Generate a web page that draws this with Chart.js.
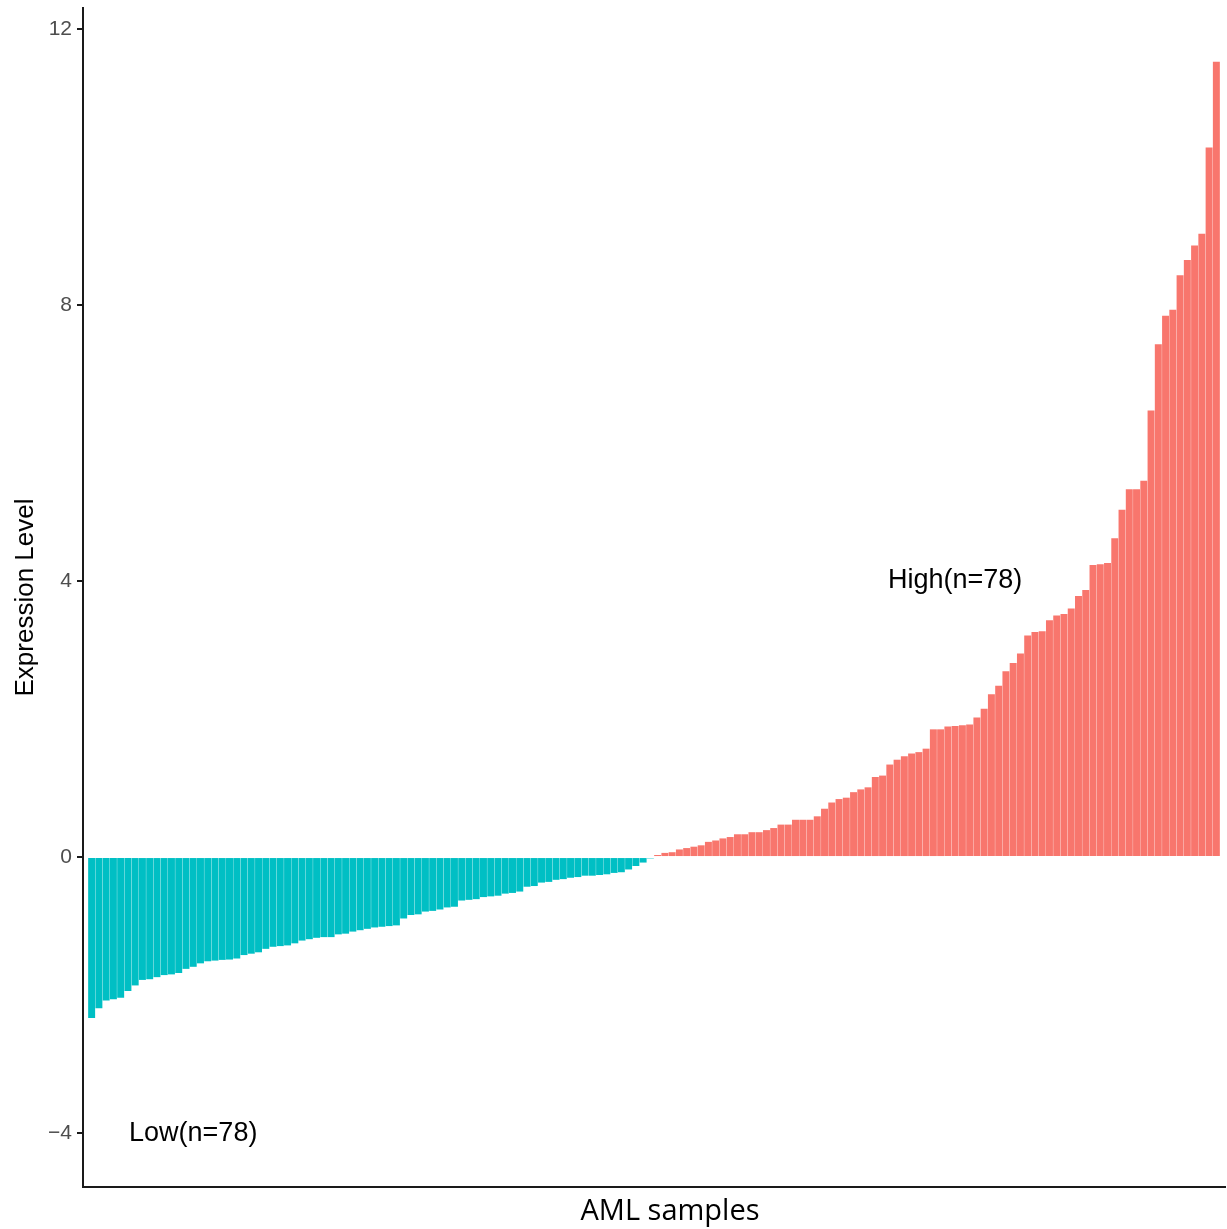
<!DOCTYPE html>
<html>
<head>
<meta charset="utf-8">
<script src="https://cdn.jsdelivr.net/npm/chart.js"></script>
<style>
    html, body { margin: 0; padding: 0; background: #ffffff; }
    #wrap { width: 1227px; height: 1229px; }
</style>
</head>
<body>
<div id="wrap"><canvas id="chart" width="1227" height="1229"></canvas></div>
<script>
// Samples sorted by expression, low group then high group
const lowValues = [
    -2.33, -2.19, -2.08, -2.06, -2.04, -1.94, -1.86, -1.78, -1.77, -1.74,
    -1.71, -1.70, -1.68, -1.62, -1.59, -1.54, -1.51, -1.50, -1.49, -1.485,
    -1.47, -1.42, -1.40, -1.38, -1.33, -1.30, -1.29, -1.28, -1.25, -1.21,
    -1.19, -1.17, -1.16, -1.16, -1.12, -1.11, -1.08, -1.06, -1.04, -1.02,
    -1.01, -1.00, -0.99, -0.89, -0.84, -0.83, -0.79, -0.78, -0.76, -0.73,
    -0.72, -0.63, -0.62, -0.61, -0.58, -0.57, -0.56, -0.53, -0.52, -0.50,
    -0.43, -0.42, -0.37, -0.36, -0.33, -0.32, -0.30, -0.29, -0.27, -0.27,
    -0.26, -0.25, -0.23, -0.22, -0.18, -0.13, -0.08, -0.02
];
const highValues = [
    0.03, 0.06, 0.07, 0.11, 0.13, 0.15, 0.17, 0.22, 0.24, 0.27,
    0.29, 0.33, 0.33, 0.36, 0.36, 0.39, 0.42, 0.47, 0.47, 0.54,
    0.54, 0.54, 0.59, 0.70, 0.79, 0.84, 0.86, 0.94, 0.98, 1.01,
    1.16, 1.18, 1.34, 1.41, 1.46, 1.50, 1.52, 1.57, 1.85, 1.85,
    1.89, 1.90, 1.91, 1.92, 2.02, 2.15, 2.36, 2.48, 2.69, 2.81,
    2.95, 3.21, 3.26, 3.27, 3.43, 3.50, 3.52, 3.60, 3.78, 3.87,
    4.23, 4.24, 4.26, 4.62, 5.03, 5.33, 5.33, 5.45, 6.47, 7.43,
    7.84, 7.93, 8.43, 8.65, 8.86, 9.03, 10.28, 11.52
];
const groupNames = ['Low', 'High'];
const groupColors = ['#00BFC4', '#F8766D'];
const yTicks = [-4, 0, 4, 8, 12];

// group labels: text, sample index, y value
const groupLabels = ['Low(n=78)', 'High(n=78)'];
const groupLabelIndex = [14, 119];
const groupLabelY = [-4, 4];
const xTitle = 'AML samples';

const values = lowValues.concat(highValues);
const points = values.map((v, i) => ({ x: i, y: v }));
const colors = lowValues.map(() => groupColors[0]).concat(highValues.map(() => groupColors[1]));

const groupLabelPlugin = {
    id: 'groupLabels',
    afterDatasetsDraw(chart) {
        const { ctx, scales, chartArea } = chart;
        ctx.save();
        ctx.font = '27px "Liberation Sans", Arial, sans-serif';
        ctx.fillStyle = '#000000';
        ctx.textAlign = 'center';
        ctx.textBaseline = 'middle';
        groupLabels.forEach((txt, i) => {
            const x = scales.x.getPixelForValue(groupLabelIndex[i]);
            const y = scales.y.getPixelForValue(groupLabelY[i]);
            ctx.fillText(txt, x, y);
        });
        // x axis title, sits a little right of the panel centre in the original
        ctx.font = '29px "Open Sans", sans-serif';
        ctx.textBaseline = 'alphabetic';
        ctx.fillText(xTitle, (chartArea.left + chartArea.right) / 2 + 16, chart.height - 9);
        ctx.restore();
    }
};

new Chart(document.getElementById('chart'), {
    type: 'bar',
    data: {
        datasets: [{
            label: groupNames.join('/'),
            data: points,
            backgroundColor: colors,
            borderWidth: 0,
            barPercentage: 0.96,
            categoryPercentage: 1.0
        }]
    },
    options: {
        responsive: false,
        animation: false,
        layout: { padding: { top: 8, right: 2, left: 0, bottom: 0 } },
        plugins: {
            legend: { display: false },
            tooltip: { enabled: false }
        },
        scales: {
            x: {
                type: 'linear',
                offset: false,
                min: -1.19,
                max: 156.19,
                ticks: { display: false },
                grid: { display: false },
                border: { display: true, color: '#1a1a1a', width: 2 },
                afterFit: (scale) => {
                    scale.height = 42;
                    scale.paddingLeft = 0;
                    scale.paddingRight = 0;
                }
            },
            y: {
                min: -4.78,
                max: 12.3,
                afterBuildTicks: (scale) => { scale.ticks = yTicks.map(v => ({ value: v })); },
                ticks: {
                    color: '#4d4d4d',
                    font: { family: '"Liberation Sans", Arial, sans-serif', size: 21 },
                    padding: 5,
                    callback: (v) => v < 0 ? '\u2212' + Math.abs(v) : String(v)
                },
                grid: {
                    display: true,
                    drawOnChartArea: false,
                    drawTicks: true,
                    tickLength: 6,
                    color: '#1a1a1a',
                    lineWidth: 2
                },
                border: { display: true, color: '#1a1a1a', width: 2 },
                title: {
                    display: true,
                    text: 'Expression Level',
                    color: '#000000',
                    font: { family: '"Liberation Sans", Arial, sans-serif', size: 26 },
                    padding: { top: 10, bottom: 0 }
                },
                afterFit: (scale) => {
                    scale.width = 83;
                    scale.paddingTop = 0;
                    scale.paddingBottom = 0;
                }
            }
        }
    },
    plugins: [groupLabelPlugin]
});
</script>
</body>
</html>
